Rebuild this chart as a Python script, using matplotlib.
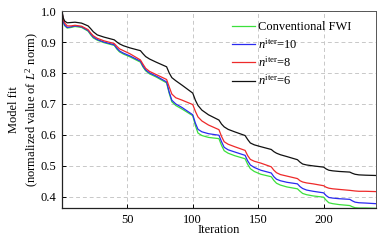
import matplotlib
matplotlib.use("Agg")
import matplotlib.pyplot as plt

plt.rcParams['font.family'] = ['Liberation Serif', 'DejaVu Serif']
plt.rcParams['mathtext.fontset'] = 'custom'
plt.rcParams['mathtext.rm'] = 'Liberation Serif'
plt.rcParams['mathtext.it'] = 'Liberation Serif:italic'

# iterations at which values were read
iters = [0, 1, 2, 4, 7, 10, 15, 20,
         22, 24, 27, 32, 40,
         42, 44, 47, 52, 60,
         62, 64, 67, 72, 80,
         82, 84, 87, 92, 100,
         102, 104, 107, 112, 120,
         122, 124, 127, 132, 140,
         142, 144, 147, 152, 160,
         162, 164, 167, 172, 180,
         182, 184, 187, 192, 200,
         202, 204, 207, 212, 220,
         222, 224, 227, 232, 240]

conventional = [1.0, 0.966, 0.953, 0.945, 0.947, 0.950, 0.947, 0.935,
                0.923, 0.913, 0.906, 0.898, 0.889,
                0.877, 0.868, 0.861, 0.852, 0.835,
                0.819, 0.807, 0.797, 0.787, 0.768,
                0.734, 0.707, 0.695, 0.683, 0.662,
                0.630, 0.606, 0.598, 0.592, 0.588,
                0.566, 0.549, 0.541, 0.533, 0.523,
                0.505, 0.491, 0.482, 0.473, 0.465,
                0.453, 0.444, 0.438, 0.432, 0.426,
                0.418, 0.411, 0.407, 0.403, 0.399,
                0.389, 0.381, 0.378, 0.375, 0.372,
                0.368, 0.365, 0.364, 0.364, 0.363]
niter10 = [1.0, 0.968, 0.955, 0.947, 0.949, 0.952, 0.949, 0.937,
           0.926, 0.916, 0.908, 0.900, 0.891,
           0.880, 0.871, 0.864, 0.855, 0.838,
           0.822, 0.810, 0.800, 0.790, 0.771,
           0.738, 0.712, 0.700, 0.688, 0.665,
           0.638, 0.618, 0.610, 0.604, 0.599,
           0.578, 0.560, 0.552, 0.545, 0.534,
           0.516, 0.503, 0.495, 0.486, 0.477,
           0.465, 0.457, 0.452, 0.447, 0.442,
           0.433, 0.427, 0.422, 0.418, 0.413,
           0.404, 0.398, 0.396, 0.394, 0.392,
           0.387, 0.383, 0.381, 0.380, 0.378]
niter8 = [1.0, 0.972, 0.962, 0.952, 0.952, 0.954, 0.951, 0.940,
          0.929, 0.920, 0.912, 0.904, 0.895,
          0.886, 0.878, 0.872, 0.862, 0.842,
          0.828, 0.815, 0.805, 0.795, 0.779,
          0.755, 0.732, 0.720, 0.712, 0.698,
          0.676, 0.658, 0.645, 0.632, 0.617,
          0.595, 0.578, 0.570, 0.562, 0.550,
          0.533, 0.521, 0.515, 0.509, 0.497,
          0.486, 0.478, 0.472, 0.467, 0.459,
          0.452, 0.448, 0.445, 0.442, 0.436,
          0.431, 0.428, 0.426, 0.424, 0.421,
          0.420, 0.419, 0.418, 0.418, 0.417]
niter6 = [1.0, 0.978, 0.968, 0.962, 0.963, 0.964, 0.961, 0.952,
          0.943, 0.933, 0.923, 0.916, 0.907,
          0.900, 0.894, 0.888, 0.881, 0.872,
          0.862, 0.853, 0.845, 0.835, 0.820,
          0.800, 0.785, 0.775, 0.760, 0.735,
          0.712, 0.695, 0.680, 0.665, 0.648,
          0.635, 0.626, 0.618, 0.610, 0.598,
          0.585, 0.574, 0.568, 0.562, 0.553,
          0.546, 0.541, 0.536, 0.530, 0.520,
          0.512, 0.506, 0.503, 0.500, 0.496,
          0.490, 0.486, 0.484, 0.482, 0.480,
          0.476, 0.473, 0.471, 0.470, 0.469]

labels = ['Conventional FWI', r'$n^{\mathrm{iter}}$=10',
          r'$n^{\mathrm{iter}}$=8', r'$n^{\mathrm{iter}}$=6']
colors = ['#3ce03c', '#2a2af0', '#ee2a2a', '#111111']
series = [conventional, niter10, niter8, niter6]

xticks = [50, 100, 150, 200]
yticks = [0.4, 0.5, 0.6, 0.7, 0.8, 0.9, 1.0]

fig = plt.figure(figsize=(3.92, 2.40), dpi=100)
ax = fig.add_axes([0.158, 0.132, 0.801, 0.822])

for s, c, l in zip(series, colors, labels):
    ax.plot(iters, s, color=c, lw=0.9, label=l)

ax.set_xlim(0, 240)
ax.set_ylim(0.363, 1.0)
ax.set_xticks(xticks)
ax.set_yticks(yticks)
ax.set_yticklabels(['%.1f' % v for v in yticks])
ax.grid(True, ls=(0, (4, 3)), color='#c8c8c8', lw=0.7)
ax.tick_params(direction='in', labelsize=9, length=3, width=0.7, pad=4)
for side in ['left', 'bottom']:
    ax.spines[side].set_color('#222222')
    ax.spines[side].set_linewidth(0.9)
for side in ['top', 'right']:
    ax.spines[side].set_color('#555555')
    ax.spines[side].set_linewidth(0.7)

ax.set_xlabel('Iteration', fontsize=9, labelpad=-1)
ax.set_ylabel('Model fit\n(normalized value of $L^2$ norm)', fontsize=9,
              linespacing=1.3, labelpad=0)

leg = ax.legend(loc='upper right', bbox_to_anchor=(0.955, 1.0), frameon=False,
                fontsize=9, handlelength=1.8, handletextpad=0.3,
                labelspacing=0.3, borderaxespad=0.4)

fig.savefig('out.png', dpi=100)
